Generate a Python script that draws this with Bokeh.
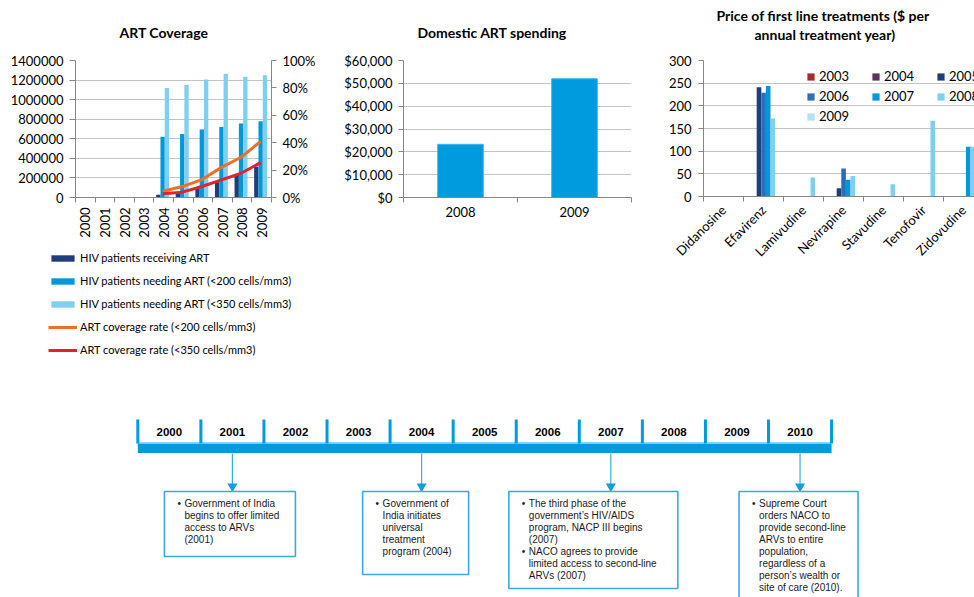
import math
from bokeh.plotting import figure
from bokeh.models import (Range1d, LinearAxis, FixedTicker, NumeralTickFormatter,
                          BasicTickFormatter, Legend, LegendItem, Title)
from bokeh.layouts import column, row
from bokeh.embed import file_html
from bokeh.resources import INLINE
from bokeh.core.properties import value

NaN = float("nan")

# ---------------- data ----------------
art_years = ["2000", "2001", "2002", "2003", "2004", "2005", "2006", "2007", "2008", "2009"]
hiv_receiving = [NaN, NaN, NaN, NaN, 28000, 50000, 95000, 155000, 230000, 315000]
hiv_need_200 = [NaN, NaN, NaN, NaN, 620000, 650000, 695000, 720000, 755000, 780000]
hiv_need_350 = [NaN, NaN, NaN, NaN, 1120000, 1150000, 1205000, 1265000, 1235000, 1250000]
coverage_200 = [NaN, NaN, NaN, NaN, 0.046, 0.080, 0.131, 0.220, 0.294, 0.410]
coverage_350 = [NaN, NaN, NaN, NaN, 0.027, 0.039, 0.080, 0.129, 0.177, 0.255]
art_series_labels = ["HIV patients receiving ART",
                     "HIV patients needing ART (<200 cells/mm3)",
                     "HIV patients needing ART (<350 cells/mm3)",
                     "ART coverage rate (<200 cells/mm3)",
                     "ART coverage rate (<350 cells/mm3)"]

spend_years = ["2008", "2009"]
spending = [23300, 52000]

drugs = ["Didanosine", "Efavirenz", "Lamivudine", "Nevirapine", "Stavudine", "Tenofovir", "Zidovudine"]
price_years = ["2003", "2004", "2005", "2006", "2007", "2008", "2009"]
price_2003 = [NaN, NaN, NaN, NaN, NaN, NaN, NaN]
price_2004 = [NaN, NaN, NaN, NaN, NaN, NaN, NaN]
price_2005 = [NaN, 241, NaN, 18, NaN, NaN, NaN]
price_2006 = [NaN, 229, NaN, 62, NaN, NaN, NaN]
price_2007 = [NaN, 244, NaN, 37, NaN, NaN, 110]
price_2008 = [NaN, 172, 42, 45, 27, 167, 110]
price_2009 = [NaN, NaN, NaN, NaN, NaN, NaN, 105]

timeline_years = [2000, 2001, 2002, 2003, 2004, 2005, 2006, 2007, 2008, 2009, 2010]
event_years = [2001, 2004, 2007, 2010]
event_texts = [
    ["• Government of India", "begins to offer limited", "access to ARVs", "(2001)"],
    ["• Government of", "India initiates", "universal", "treatment", "program (2004)"],
    ["• The third phase of the", "government’s  HIV/AIDS", "program, NACP III begins", "(2007)",
     "• NACO agrees to provide", "limited access to second-line", "ARVs (2007)"],
    ["• Supreme Court", "orders NACO to", "provide second-line", "ARVs to entire", "population,",
     "regardless of a", "person’s wealth or", "site of care (2010)."],
]

# ---------------- styles ----------------
FONT = "Lato"
AXIS_GRAY = "#868686"
GRID_GRAY = "#C4C4C4"
C_NAVY = "#1F3D7A"
C_BLUE = "#0098DA"
C_LIGHT = "#7FCFF0"
C_ORANGE = "#EE6F2A"
C_RED = "#E0242B"
PRICE_COLORS = ["#A82A2A", "#5B3458", "#1F3D7A", "#2A6EB5", "#0098DA", "#7FCFF0", "#B4E1F5"]


def base_fig(width, height, left, right, top, bottom):
    p = figure(width=width, height=height, output_backend="svg", toolbar_location=None,
               min_border_left=left, min_border_right=right, min_border_top=top,
               min_border_bottom=bottom)
    p.frame_align = False
    p.outline_line_color = None
    p.xgrid.visible = False
    p.ygrid.grid_line_color = GRID_GRAY
    p.background_fill_color = "white"
    p.border_fill_color = "white"
    return p


def style_axis(ax, size="13px"):
    ax.major_label_text_font = FONT
    ax.major_label_text_font_size = size
    ax.major_label_text_color = "#000000"
    ax.axis_line_color = AXIS_GRAY
    ax.major_tick_line_color = AXIS_GRAY
    ax.minor_tick_line_color = AXIS_GRAY
    ax.major_tick_in = 0
    ax.minor_tick_in = 0


def set_title(p, text, offset, standoff, size="14px"):
    p.title.text = text
    p.title.align = "left"
    p.title.offset = offset
    p.title.standoff = standoff
    p.title.text_font = FONT
    p.title.text_font_size = size
    p.title.text_font_style = "bold"
    p.title.text_color = "#000000"


def art_glyphs(p):
    n = len(art_years)
    bar_w = 0.22
    offs = [0.225, 0.445, 0.665]
    rs = []
    for vals, off, col in zip([hiv_receiving, hiv_need_200, hiv_need_350], offs,
                              [C_NAVY, C_BLUE, C_LIGHT]):
        rs.append(p.vbar(x=[i + off for i in range(n)], top=vals, width=bar_w,
                         color=col, line_color=None))
    for vals, col in zip([coverage_200, coverage_350], [C_ORANGE, C_RED]):
        rs.append(p.line(x=[i + 0.45 for i in range(n)], y=vals, y_range_name="pct",
                         line_color=col, line_width=3))
    return rs


# ---------------- ART coverage ----------------
n = len(art_years)
p1 = base_fig(318, 240, 75, 44, 60, 43)
p1.x_range = Range1d(0, n)
p1.y_range = Range1d(0, 1400000)
p1.extra_y_ranges = {"pct": Range1d(0, 1)}
art_glyphs(p1)

p1.yaxis.ticker = FixedTicker(ticks=list(range(0, 1400001, 200000)))
p1.yaxis.formatter = BasicTickFormatter(use_scientific=False)
style_axis(p1.yaxis[0])
p1.yaxis.major_tick_out = 6
p1.yaxis.major_label_standoff = 6

ax_r = LinearAxis(y_range_name="pct", ticker=FixedTicker(ticks=[0, 0.2, 0.4, 0.6, 0.8, 1.0]),
                  formatter=NumeralTickFormatter(format="0%"))
style_axis(ax_r)
ax_r.major_tick_out = 5
ax_r.major_label_standoff = 6
p1.add_layout(ax_r, "right")

p1.xaxis.ticker = FixedTicker(ticks=[i + 0.5 for i in range(n)], minor_ticks=list(range(n + 1)))
p1.xaxis.major_label_overrides = {i + 0.5: art_years[i] for i in range(n)}
style_axis(p1.xaxis[0])
p1.xaxis.major_tick_line_color = None
p1.xaxis.major_tick_out = 3
p1.xaxis.minor_tick_out = 5
p1.xaxis.major_label_standoff = 5
p1.xaxis.major_label_orientation = math.pi / 2

set_title(p1, "ART Coverage", 44, 39)

# legend panel for ART coverage (its own small figure; glyphs kept out of view)
pl = figure(width=318, height=130, output_backend="svg", toolbar_location=None,
            x_range=Range1d(-50, -40), y_range=Range1d(0, 1), min_border=0)
pl.frame_align = False
pl.extra_y_ranges = {"pct": Range1d(0, 1)}
pl.axis.visible = False
pl.grid.visible = False
pl.outline_line_color = None
leg_rs = art_glyphs(pl)
leg1 = Legend(items=[LegendItem(label=lab, renderers=[r]) for lab, r in zip(art_series_labels, leg_rs)],
              location=(48, 13), padding=0, margin=0, spacing=8, glyph_width=29, glyph_height=8,
              label_height=15, label_standoff=3, label_text_font=FONT, label_text_font_size="11px",
              label_text_color="#000000", border_line_color=None, background_fill_alpha=0)
pl.add_layout(leg1)

# ---------------- Domestic ART spending ----------------
m = len(spend_years)
p2 = base_fig(322, 370, 85, 9, 60, 173)
p2.x_range = Range1d(0, m)
p2.y_range = Range1d(0, 60000)
p2.vbar(x=[i + 0.5 for i in range(m)], top=spending, width=0.4, color="#009ADE",
        line_color="#3FB4E8", line_width=1)
p2.yaxis.ticker = FixedTicker(ticks=list(range(0, 60001, 10000)))
p2.yaxis.formatter = NumeralTickFormatter(format="$0,0")
style_axis(p2.yaxis[0])
p2.yaxis.major_tick_out = 5
p2.yaxis.major_label_standoff = 6
p2.xaxis.ticker = FixedTicker(ticks=[i + 0.5 for i in range(m)], minor_ticks=list(range(m + 1)))
p2.xaxis.major_label_overrides = {i + 0.5: spend_years[i] for i in range(m)}
style_axis(p2.xaxis[0])
p2.xaxis.major_tick_line_color = None
p2.xaxis.major_tick_out = 3
p2.xaxis.minor_tick_out = 5
p2.xaxis.major_label_standoff = 4
set_title(p2, "Domestic ART spending", 14, 39)

# ---------------- Price of first line treatments ----------------
k = len(drugs)
p3 = base_fig(334, 370, 63, 0, 60, 174)
p3.x_range = Range1d(0, 271 / 40)
p3.y_range = Range1d(0, 300)
series = [price_2003, price_2004, price_2005, price_2006, price_2007, price_2008, price_2009]
pw = 0.115
items3 = []
for s, (vals, yr, col) in enumerate(zip(series, price_years, PRICE_COLORS)):
    r = p3.vbar(x=[i + 0.1 + (s + 0.5) * pw for i in range(k)], top=vals, width=pw,
                color=col, line_color=None)
    items3.append(LegendItem(label=yr, renderers=[r]))
p3.yaxis.ticker = FixedTicker(ticks=list(range(0, 301, 50)))
style_axis(p3.yaxis[0])
p3.yaxis.major_tick_out = 5
p3.yaxis.major_label_standoff = 7
p3.xaxis.ticker = FixedTicker(ticks=[i + 0.5 for i in range(k)], minor_ticks=list(range(k + 1)))
p3.xaxis.major_label_overrides = {i + 0.5: drugs[i] for i in range(k)}
style_axis(p3.xaxis[0])
p3.xaxis.major_tick_line_color = None
p3.xaxis.major_tick_out = 3
p3.xaxis.minor_tick_out = 5
p3.xaxis.major_label_standoff = 6
p3.xaxis.major_label_orientation = math.pi / 4
leg3 = Legend(items=items3, orientation="horizontal", ncols=3, location=(103, 72), padding=0,
              margin=0, spacing=4, glyph_width=9, glyph_height=9, label_height=16, label_width=48,
              label_standoff=4, label_text_font=FONT, label_text_font_size="13px",
              label_text_color="#000000", border_line_color=None, background_fill_alpha=0)
p3.add_layout(leg3)
# two-line title, stacked outward from the frame: spacer, second line, first line
p3.title.text = ""
p3.add_layout(Title(text=" ", text_font_size="1px", standoff=15), "above")
for txt, off in [("annual treatment year)", 51), ("Price of first line treatments ($ per", 13)]:
    p3.add_layout(Title(text=txt, align="left", offset=off, standoff=0, text_font=FONT,
                        text_font_size="14px", text_font_style="bold", text_color="#000000"),
                  "above")

# ---------------- Timeline ----------------
PX = 63.07
p4 = figure(width=974, height=227, output_backend="svg", toolbar_location=None,
            x_range=Range1d(1997.323, 2012.766), y_range=Range1d(597, 370),
            min_border=0)
p4.frame_align = False
p4.axis.visible = False
p4.grid.visible = False
p4.outline_line_color = None

first, last = timeline_years[0] - 0.5, timeline_years[-1] + 0.5
p4.quad(left=[first], right=[last], top=[443], bottom=[452.5], color="#009ADE", line_color=None)
p4.segment(x0=[first], x1=[last], y0=[442], y1=[442], line_color="#8BD3F2", line_width=1)
edges = [y - 0.5 for y in timeline_years] + [last]
p4.segment(x0=edges, x1=edges, y0=[419] * len(edges), y1=[443] * len(edges),
           line_color="#009ADE", line_width=3)
p4.text(x=timeline_years, y=[431] * len(timeline_years), text=[str(y) for y in timeline_years],
        text_font=value("Liberation Sans"), text_font_size="11.5px", text_font_style="bold",
        text_align="center", text_baseline="middle", text_color="#000000")

p4.segment(x0=event_years, x1=event_years, y0=[453] * 4, y1=[484] * 4,
           line_color="#3AAEE3", line_width=1.2)
p4.scatter(x=event_years, y=[486] * 4, marker="inverted_triangle", size=10,
           color="#109FDD", line_color=None)

box_dx = [-68, -59, -102, -61]
box_w = [131, 106, 169, 119]
box_h = [65, 83, 97, 110]
lefts = [ey + dx / PX for ey, dx in zip(event_years, box_dx)]
rights = [l + w / PX for l, w in zip(lefts, box_w)]
p4.quad(left=lefts, right=rights, top=[491] * 4, bottom=[491 + h for h in box_h],
        fill_color="white", line_color="#3AABE0", line_width=1.6)

tx, ty, tt, bx, by = [], [], [], [], []
for l, lines in zip(lefts, event_texts):
    for j, line in enumerate(lines):
        yy = 502.5 + 12 * j
        if line.startswith("• "):
            bx.append(l + 13 / PX)
            by.append(yy)
            line = line[2:]
        tx.append(l + 20 / PX)
        ty.append(yy)
        tt.append(line)
p4.text(x=tx, y=ty, text=tt, text_font=value("Liberation Sans"), text_font_size="10px",
        text_align="left", text_baseline="middle", text_color="#1A1A1A")
p4.text(x=bx, y=by, text=["•"] * len(bx), text_font=value("Liberation Sans"),
        text_font_size="10px", text_align="left", text_baseline="middle", text_color="#1A1A1A")

layout = column(row(column(p1, pl, spacing=0), p2, p3, spacing=0), p4, spacing=0)
open("out.html", "w").write(file_html(layout, INLINE))
